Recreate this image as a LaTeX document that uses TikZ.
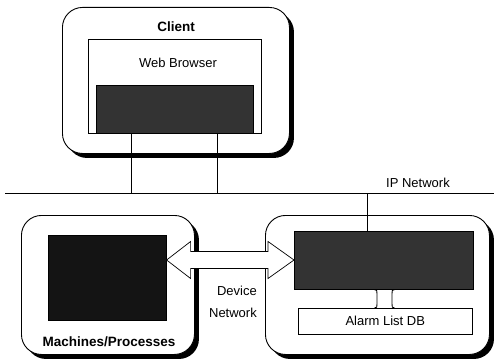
\documentclass[tikz,border=0pt]{standalone}
\usepackage{fontspec}
\setmainfont{Liberation Sans}
\usetikzlibrary{shadows,calc}
\begin{document}
\begin{tikzpicture}[x=1pt,y=-1pt,
  outer/.style={draw=black, line width=0.9pt, fill=white, rounded corners=20pt,
    drop shadow={shadow xshift=4.5pt, shadow yshift=-4.5pt, opacity=1, fill=black},
    anchor=north west, inner sep=0pt},
  plain/.style={draw=black, line width=0.6pt, fill=white, anchor=north west, inner sep=0pt,
    font=\fontsize{13}{15}\selectfont},
  dark/.style={draw=black, line width=0.6pt, fill=black!80, anchor=north west, inner sep=0pt},
  lbl/.style={font=\fontsize{13}{15}\selectfont, inner sep=0pt},
  blbl/.style={font=\bfseries\fontsize{13.5}{15}\selectfont, inner sep=0pt},
  wire/.style={draw=black, line width=0.7pt},
  blockarrow/.style={draw=black, line width=0.7pt, fill=white, line join=miter}
]
\useasboundingbox (0,0) rectangle (494,361);

% Client
\node[outer, minimum width=227pt, minimum height=146pt] (client) at (62,7) {};
\node[blbl] (clientlbl) at (176,27) {Client};
\node[plain, minimum width=173pt, minimum height=94pt] (web) at (88,39) {};
\node[lbl] (weblbl) at (178,63) {Web Browser};
\node[dark, minimum width=157pt, minimum height=48pt] (cdark) at (96,85) {};

% IP network
\coordinate (ipL) at (5,193);
\coordinate (ipR) at (494,193);
\draw[wire] (ipL) -- (ipR);
\node[lbl] (iplbl) at (418,183) {IP Network};
\coordinate (w1) at (131,193);
\coordinate (w2) at (217,193);
\coordinate (w3) at (367,193);
\draw[wire] (w1 |- cdark.south) -- (w1);
\draw[wire] (w2 |- cdark.south) -- (w2);

% Machines / Processes
\node[outer, minimum width=173pt, minimum height=139pt] (mbox) at (21,215) {};
\node[dark, fill=black!92, minimum width=118pt, minimum height=85pt] (mdark) at (48,235) {};
\node[blbl] (mlbl) at (109,342) {Machines/Processes};

% Server side
\node[outer, minimum width=224pt, minimum height=139pt] (sbox) at (265,215) {};
\node[dark, minimum width=179pt, minimum height=58pt] (sdark) at (294,231) {};
\node[plain, minimum width=174pt, minimum height=26pt] (alarm) at (298,308) {Alarm List DB};
\draw[wire] (w3) -- (w3 |- sdark.north);

% Device network block arrow
\coordinate (aL) at (mdark.east |- 0,260);
\coordinate (aR) at (sdark.west |- 0,260);
\draw[blockarrow] (aL) -- ++(24,-18.5) -- ++(0,10) -- ($(aR)+(-26,-8.5)$) -- ++(0,-10)
  -- (aR) -- ++(-26,18.5) -- ++(0,-10) -- ($(aL)+(24,8.5)$) -- ++(0,10) -- cycle;
\node[lbl, anchor=east] (dev) at (257,291) {Device};
\node[lbl, anchor=east] (net) at (257,313) {Network};

% small double arrow
\coordinate (sa) at (384.5,0);
\coordinate (st) at (sa |- sdark.south);
\coordinate (sb) at (sa |- alarm.north);
\draw[wire, line width=0.9pt] ($(st)+(-10,0)$) .. controls ($(st)+(-7.5,0)$) and ($(st)+(-7.5,1)$) .. ($(st)+(-7.5,4)$)
  -- ($(sb)+(-7.5,-4)$) .. controls ($(sb)+(-7.5,-1)$) and ($(sb)+(-7.5,0)$) .. ($(sb)+(-10,0)$);
\draw[wire, line width=0.9pt] ($(st)+(10,0)$) .. controls ($(st)+(7.5,0)$) and ($(st)+(7.5,1)$) .. ($(st)+(7.5,4)$)
  -- ($(sb)+(7.5,-4)$) .. controls ($(sb)+(7.5,-1)$) and ($(sb)+(7.5,0)$) .. ($(sb)+(10,0)$);
\end{tikzpicture}
\end{document}
